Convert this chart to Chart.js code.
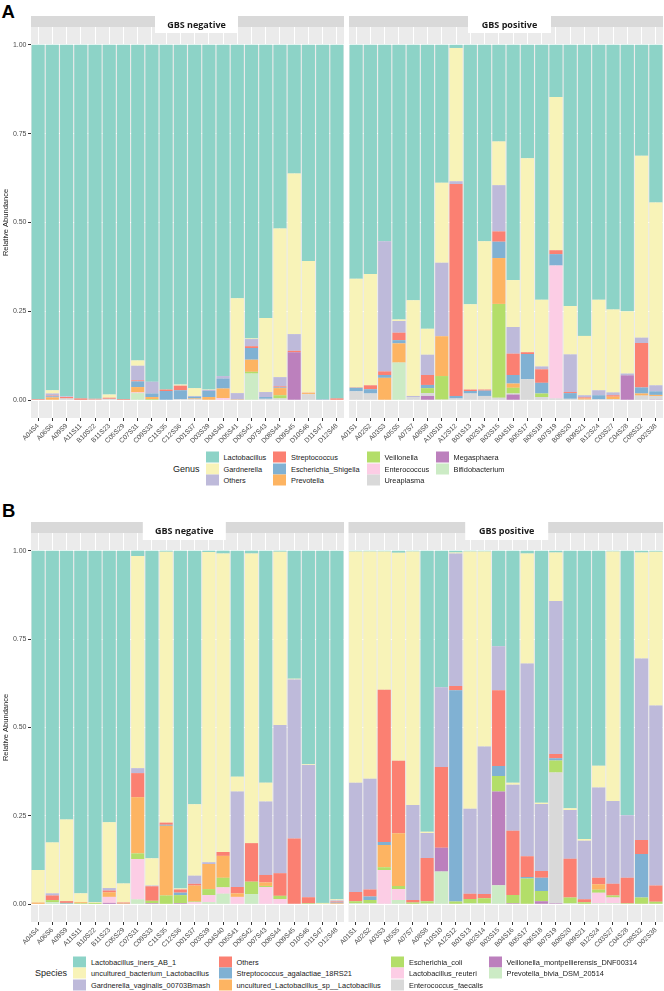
<!DOCTYPE html>
<html>
<head>
<meta charset="utf-8">
<script src="https://cdn.jsdelivr.net/npm/chart.js@4.4.1/dist/chart.umd.min.js"></script>
<style>
  body { margin: 0; background: #fff; }
  #page { position: relative; width: 664px; height: 991px; overflow: hidden; font-family: 'Liberation Sans', Arial, sans-serif; }
  .box { position: absolute; }
  .tag { position: absolute; font: bold 18.5px/1 'Liberation Sans', Arial, sans-serif; color: #000; }
  .lg-title { position: absolute; font-size: 9px; color: #1a1a1a; transform: translateY(-50%); white-space: nowrap; }
  .lg-key { position: absolute; width: 13px; height: 11px; transform: translateY(-50%); }
  .lg-text { position: absolute; font-size: 7.4px; color: #1a1a1a; transform: translateY(-50%); white-space: nowrap; }
</style>
</head>
<body>
<div id="page">
  <div class="tag" style="left:1.5px; top:2.5px;">A</div>
  <div class="tag" style="left:2px; top:501.5px;">B</div>
  <div class="box" style="left:0; top:0;"><canvas id="aNeg" width="344" height="445"></canvas></div>
  <div class="box" style="left:320px; top:0;"><canvas id="aPos" width="344" height="445"></canvas></div>
  <div class="box" style="left:0; top:505px;"><canvas id="bNeg" width="344" height="445"></canvas></div>
  <div class="box" style="left:320px; top:505px;"><canvas id="bPos" width="344" height="445"></canvas></div>
  <div id="legendA"></div>
  <div id="legendB"></div>
</div>
<script>
// ---------------------------------------------------------
// Data
// ---------------------------------------------------------
const GENUS = ['Lactobacillus', 'Gardnerella', 'Others', 'Streptococcus', 'Escherichia_Shigella',
  'Prevotella', 'Veillonella', 'Enterococcus', 'Ureaplasma', 'Megasphaera', 'Bifidobacterium'];

const SPECIES = ['Lactobacillus_iners_AB_1', 'uncultured_bacterium_Lactobacillus',
  'Gardnerella_vaginalis_00703Bmash', 'Others', 'Streptococcus_agalactiae_18RS21',
  'uncultured_Lactobacillus_sp__Lactobacillus', 'Escherichia_coli', 'Lactobacillus_reuteri',
  'Enterococcus_faecalis', 'Veillonella_montpellierensis_DNF00314', 'Prevotella_bivia_DSM_20514'];

const NEG_SAMPLES = ['A04S4', 'A06S6', 'A09S9', 'A11S11', 'B10S22', 'B11S23', 'C05S29', 'C07S31',
  'C09S33', 'C11S35', 'C12S36', 'D01S37', 'D03S39', 'D04S40', 'D05S41', 'D06S42', 'D07S43',
  'D08S44', 'D09S45', 'D10S46', 'D11S47', 'D12S48'];

const POS_SAMPLES = ['A01S1', 'A02S2', 'A03S3', 'A05S5', 'A07S7', 'A08S8', 'A10S10', 'A12S12',
  'B01S13', 'B02S14', 'B03S15', 'B04S16', 'B05S17', 'B06S18', 'B07S19', 'B08S20', 'B09S21',
  'B12S24', 'C03S27', 'C04S28', 'C08S32', 'D02S38'];

const Y_TICKS = [0, 0.25, 0.5, 0.75, 1];

// one row per taxon (legend order), one column per sample
const A_NEG = [
  [0.997, 0.972, 0.989, 0.995, 0.996, 0.984, 0.997, 0.888, 0.948, 0.970, 0.956, 0.966, 0.970, 0.932, 0.713, 0.826, 0.769, 0.517, 0.362, 0.608, 0.998, 0.995],
  [0, 0.009, 0, 0, 0, 0.009, 0, 0.015, 0, 0, 0.003, 0.022, 0.001, 0, 0.267, 0.002, 0.208, 0.418, 0.452, 0.371, 0, 0],
  [0, 0.006, 0.002, 0, 0, 0, 0, 0.041, 0.033, 0, 0, 0.002, 0.003, 0.007, 0.018, 0.020, 0.014, 0.026, 0.047, 0, 0.001, 0],
  [0.003, 0.002, 0.004, 0.004, 0.002, 0.003, 0.002, 0.003, 0, 0.004, 0.013, 0, 0, 0, 0, 0.005, 0, 0.003, 0.004, 0.001, 0, 0.005],
  [0, 0.003, 0, 0, 0, 0, 0, 0.016, 0.010, 0.026, 0.025, 0.005, 0.017, 0.028, 0, 0.033, 0.005, 0.002, 0, 0, 0.001, 0],
  [0, 0.008, 0, 0, 0, 0, 0, 0.015, 0.006, 0, 0, 0.002, 0.009, 0.027, 0.001, 0.034, 0, 0.020, 0, 0.003, 0, 0],
  [0, 0, 0, 0, 0, 0, 0, 0, 0.002, 0, 0, 0, 0, 0, 0, 0.005, 0, 0.009, 0, 0, 0, 0],
  [0, 0, 0, 0, 0, 0, 0, 0.002, 0, 0, 0, 0, 0, 0.006, 0, 0, 0, 0, 0, 0, 0, 0],
  [0, 0, 0.005, 0.001, 0.002, 0.004, 0.001, 0, 0.001, 0, 0.003, 0.003, 0, 0, 0.001, 0, 0.004, 0.005, 0, 0.017, 0, 0],
  [0, 0, 0, 0, 0, 0, 0, 0, 0, 0, 0, 0, 0, 0, 0, 0, 0, 0, 0.135, 0, 0, 0],
  [0, 0, 0, 0, 0, 0, 0, 0.020, 0, 0, 0, 0, 0, 0, 0, 0.075, 0, 0, 0, 0, 0, 0],
];

const A_POS = [
  [0.658, 0.645, 0.553, 0.773, 0.719, 0.799, 0.388, 0.009, 0.730, 0.553, 0.272, 0.662, 0.319, 0.717, 0.147, 0.735, 0.819, 0.717, 0.745, 0.750, 0.312, 0.444],
  [0.306, 0.313, 0, 0.004, 0.269, 0.073, 0.225, 0.375, 0.240, 0.417, 0.123, 0.132, 0.546, 0.188, 0.431, 0.136, 0.167, 0.255, 0.233, 0.175, 0.512, 0.514],
  [0, 0, 0.366, 0.033, 0.003, 0.057, 0.207, 0.008, 0, 0, 0.130, 0.075, 0, 0.008, 0, 0.106, 0.006, 0.014, 0.008, 0.005, 0.015, 0.017],
  [0.001, 0.011, 0.010, 0.021, 0, 0.028, 0, 0.596, 0.004, 0.003, 0.029, 0.060, 0.005, 0.038, 0.011, 0.003, 0.003, 0, 0.004, 0, 0.125, 0],
  [0.010, 0.012, 0.008, 0.009, 0, 0.009, 0, 0.007, 0.007, 0.015, 0.046, 0.024, 0.071, 0.030, 0.032, 0.016, 0, 0.011, 0, 0, 0.017, 0.010],
  [0, 0, 0.063, 0.054, 0, 0, 0.112, 0, 0, 0, 0.129, 0.012, 0, 0, 0, 0, 0.003, 0, 0.007, 0, 0.006, 0.003],
  [0, 0, 0, 0, 0, 0.014, 0.066, 0, 0, 0, 0.264, 0.016, 0, 0.010, 0, 0, 0, 0, 0, 0, 0, 0],
  [0, 0, 0, 0, 0, 0, 0, 0, 0, 0, 0, 0, 0, 0, 0.374, 0, 0, 0, 0, 0, 0, 0],
  [0.025, 0.019, 0, 0, 0.009, 0.008, 0.002, 0.005, 0.019, 0.012, 0.007, 0.003, 0.059, 0.009, 0.005, 0.004, 0.002, 0.003, 0.003, 0, 0.013, 0.010],
  [0, 0, 0, 0, 0, 0.012, 0, 0, 0, 0, 0, 0.016, 0, 0, 0, 0, 0, 0, 0, 0.070, 0, 0.002],
  [0, 0, 0, 0.106, 0, 0, 0, 0, 0, 0, 0, 0, 0, 0, 0, 0, 0, 0, 0, 0, 0, 0],
];

const B_NEG = [
  [0.903, 0.825, 0.760, 0.969, 0.994, 0.768, 0.941, 0.015, 0.870, 0.003, 0.955, 0.717, 0.004, 0.008, 0.639, 0.008, 0.656, 0.003, 0.362, 0.604, 0.996, 0.986],
  [0.092, 0.144, 0.231, 0.025, 0.002, 0.186, 0.054, 0.600, 0.077, 0.766, 0.003, 0.202, 0.877, 0.844, 0.042, 0.819, 0.053, 0.490, 0.002, 0.002, 0.002, 0.003],
  [0, 0.006, 0, 0, 0, 0.007, 0, 0.014, 0.002, 0, 0, 0.023, 0.005, 0, 0.270, 0, 0.208, 0.419, 0.450, 0.374, 0, 0.003],
  [0, 0.013, 0.005, 0, 0, 0.005, 0.003, 0.068, 0.041, 0.006, 0.009, 0.005, 0, 0.011, 0.018, 0.109, 0.021, 0.064, 0.186, 0.017, 0, 0.003],
  [0, 0, 0.002, 0, 0, 0, 0, 0, 0, 0.003, 0.007, 0, 0, 0, 0, 0, 0, 0, 0, 0, 0, 0.002],
  [0.005, 0, 0, 0.003, 0, 0.013, 0, 0.159, 0, 0.197, 0, 0.045, 0.071, 0.062, 0.010, 0, 0.010, 0, 0, 0, 0, 0.003],
  [0, 0.006, 0.002, 0.003, 0.004, 0, 0.002, 0.016, 0.007, 0.025, 0.023, 0.002, 0.017, 0.027, 0, 0.035, 0.003, 0.009, 0, 0.003, 0.002, 0],
  [0, 0, 0, 0, 0, 0.017, 0, 0.114, 0, 0, 0, 0.006, 0.020, 0.018, 0.021, 0, 0.049, 0.015, 0, 0, 0, 0],
  [0, 0, 0, 0, 0, 0, 0, 0, 0, 0, 0, 0, 0, 0, 0, 0, 0, 0, 0, 0, 0, 0],
  [0, 0, 0, 0, 0, 0.004, 0, 0, 0.003, 0, 0.003, 0, 0, 0, 0, 0, 0, 0, 0, 0, 0, 0],
  [0, 0.006, 0, 0, 0, 0, 0, 0.014, 0, 0, 0, 0, 0.006, 0.030, 0, 0.029, 0, 0, 0, 0, 0, 0],
];

const B_POS = [
  [0.002, 0.002, 0.002, 0.006, 0.002, 0.795, 0.386, 0.005, 0.002, 0.002, 0.270, 0.656, 0.008, 0.713, 0.005, 0.728, 0.815, 0.608, 0.002, 0.748, 0.005, 0.003],
  [0.654, 0.643, 0.391, 0.588, 0.717, 0.003, 0, 0.003, 0.728, 0.552, 0, 0.006, 0.311, 0.003, 0.137, 0.005, 0.005, 0.062, 0.706, 0, 0.300, 0.435],
  [0.309, 0.313, 0, 0, 0.269, 0.071, 0.226, 0.375, 0.240, 0.417, 0.125, 0.130, 0.545, 0.190, 0.433, 0.138, 0.166, 0.255, 0.234, 0.177, 0.513, 0.509],
  [0.026, 0.020, 0.431, 0.205, 0.007, 0.122, 0.228, 0.012, 0.015, 0.012, 0.214, 0.182, 0.059, 0.019, 0.012, 0.110, 0.008, 0.018, 0.033, 0.072, 0.040, 0.046],
  [0, 0.010, 0.008, 0, 0, 0, 0, 0.597, 0, 0, 0.028, 0, 0.004, 0.037, 0.006, 0, 0, 0, 0, 0, 0.123, 0],
  [0, 0, 0.063, 0.149, 0, 0, 0, 0, 0, 0, 0, 0, 0, 0, 0, 0, 0, 0.016, 0, 0, 0, 0],
  [0.006, 0.009, 0.008, 0.009, 0.005, 0.007, 0, 0.008, 0.012, 0.014, 0.044, 0.023, 0.073, 0.029, 0.034, 0.016, 0.006, 0.008, 0.006, 0.003, 0.019, 0.007],
  [0, 0, 0.097, 0.031, 0, 0, 0, 0, 0, 0, 0, 0, 0, 0, 0, 0, 0, 0.030, 0.016, 0, 0, 0],
  [0, 0, 0, 0, 0, 0, 0, 0, 0, 0, 0, 0, 0, 0, 0.370, 0, 0, 0, 0, 0, 0, 0],
  [0, 0, 0, 0, 0, 0, 0.067, 0, 0, 0, 0.265, 0.003, 0, 0.009, 0.003, 0, 0, 0, 0, 0, 0, 0],
  [0.003, 0.003, 0, 0.012, 0, 0.002, 0.093, 0, 0.003, 0.003, 0.054, 0, 0, 0, 0, 0.003, 0, 0.003, 0.003, 0, 0, 0],
];

// ---------------------------------------------------------
// Style
// ---------------------------------------------------------
const SET3 = ['#8DD3C7', '#F8F3B8', '#BEBADA', '#FB8072', '#80B1D3', '#FDB462',
  '#B3DE69', '#FCCDE5', '#D9D9D9', '#BC80BD', '#CCEBC5'];
const FONT = "'Liberation Sans', Arial, sans-serif";
const PANEL_BG = '#EBEBEB';
const STRIP_BG = '#D9D9D9';
const AXIS_TEXT = '#4D4D4D';

// panel background + facet strip
const panelPlugin = {
  id: 'panel',
  beforeDraw(chart) {
    const { ctx, chartArea: a } = chart;
    ctx.save();
    ctx.fillStyle = PANEL_BG;
    ctx.fillRect(a.left, a.top, a.right - a.left, a.bottom - a.top);
    ctx.restore();
  },
  afterDraw(chart, args, opts) {
    if (!opts.text) return;
    const { ctx, chartArea: a } = chart;
    const top = a.top - 11;
    ctx.save();
    ctx.fillStyle = STRIP_BG;
    ctx.fillRect(a.left, top, a.right - a.left, 11);
    ctx.fillStyle = '#fff';
    ctx.fillRect(opts.cx - 41.5, top, 83, opts.boxH);
    ctx.fillStyle = '#1a1a1a';
    ctx.font = "bold 9px 'Open Sans', " + FONT;
    ctx.textAlign = 'center';
    ctx.textBaseline = 'middle';
    ctx.fillText(opts.text, opts.cx, top + opts.boxH / 2 + 0.5);
    ctx.restore();
  },
};

function facetChart(canvasId, samples, rows, names, facet) {
  const canvas = document.getElementById(canvasId);
  // first taxon sits on top of the stack, so feed datasets bottom-up
  const datasets = rows.map((vals, i) => ({
    label: names[i],
    data: vals,
    backgroundColor: SET3[i],
    borderWidth: 0,
    barPercentage: 0.92,
    categoryPercentage: 1,
  })).reverse();

  return new Chart(canvas.getContext('2d'), {
    type: 'bar',
    data: { labels: samples, datasets },
    options: {
      responsive: false,
      animation: false,
      devicePixelRatio: 1,
      layout: { padding: { top: facet.padTop, right: facet.padRight, left: 0, bottom: 0 } },
      plugins: {
        legend: { display: false },
        tooltip: { enabled: false },
        panel: { text: facet.strip, cx: facet.stripCx, boxH: facet.boxH },
      },
      scales: {
        x: {
          stacked: true,
          offset: true,
          border: { display: false },
          grid: { offset: false, color: '#fff', lineWidth: 1, tickLength: 3, tickColor: '#333' },
          ticks: {
            autoSkip: false, minRotation: 45, maxRotation: 45, padding: 1,
            color: AXIS_TEXT, font: { family: FONT, size: 6.8 },
          },
          afterFit: s => { s.height = facet.xh; s.paddingLeft = 0; s.paddingRight = 0; },
        },
        y: {
          stacked: true,
          min: -0.05,
          max: 1.05,
          border: { display: false },
          afterBuildTicks: s => { s.ticks = Y_TICKS.map(v => ({ value: v })); },
          grid: { color: '#fff', lineWidth: 1, drawTicks: facet.showY, tickLength: 3, tickColor: '#333' },
          ticks: {
            display: facet.showY, padding: 1.5, color: AXIS_TEXT,
            font: { family: FONT, size: 7 },
            callback: v => Number(v).toFixed(2),
          },
          title: {
            display: facet.showY, text: 'Relative Abundance', color: '#1a1a1a',
            font: { family: FONT, size: 7.5 }, padding: { top: 1.5, bottom: 0 },
          },
          afterFit: s => { s.width = facet.yw; },
        },
      },
    },
    plugins: [panelPlugin],
  });
}

// right-hand canvases start at x=320 so the first rotated label has room
facetChart('aNeg', NEG_SAMPLES, A_NEG, GENUS,
  { showY: true, yw: 31, xh: 27, padTop: 27, padRight: 0, strip: 'GBS negative', stripCx: 196.5, boxH: 17 });
facetChart('aPos', POS_SAMPLES, A_POS, GENUS,
  { showY: false, yw: 29, xh: 27, padTop: 27, padRight: 1, strip: 'GBS positive', stripCx: 509.5 - 320, boxH: 17 });
facetChart('bNeg', NEG_SAMPLES, B_NEG, SPECIES,
  { showY: true, yw: 31, xh: 28, padTop: 28, padRight: 0, strip: 'GBS negative', stripCx: 184.3, boxH: 18 });
facetChart('bPos', POS_SAMPLES, B_POS, SPECIES,
  { showY: false, yw: 28.5, xh: 28, padTop: 28, padRight: 1, strip: 'GBS positive', stripCx: 506.7 - 320, boxH: 18 });

// ---------------------------------------------------------
// Legends (ggplot style, filled column-wise, 3 rows)
// ---------------------------------------------------------
function buildLegend(hostId, title, names, layout) {
  const host = document.getElementById(hostId);
  let html = '<div class="lg-title" style="left:' + layout.titleX + 'px;top:' + layout.rows[1] + 'px">' + title + '</div>';
  names.forEach((name, i) => {
    const col = Math.floor(i / 3);
    const row = i % 3;
    const x = layout.cols[col];
    const y = layout.rows[row];
    html += '<div class="lg-key" style="left:' + x + 'px;top:' + y + 'px;background:' + SET3[i] + '"></div>';
    html += '<div class="lg-text" style="left:' + (x + 18) + 'px;top:' + y + 'px">' + name + '</div>';
  });
  host.innerHTML = html;
}

buildLegend('legendA', 'Genus', GENUS, { titleX: 173, cols: [205.5, 273, 366.5, 435.5], rows: [457, 468.5, 480] });
buildLegend('legendB', 'Species', SPECIES, { titleX: 35, cols: [73, 218.5, 391, 488.5], rows: [961.5, 973, 984.5] });
</script>
</body>
</html>
